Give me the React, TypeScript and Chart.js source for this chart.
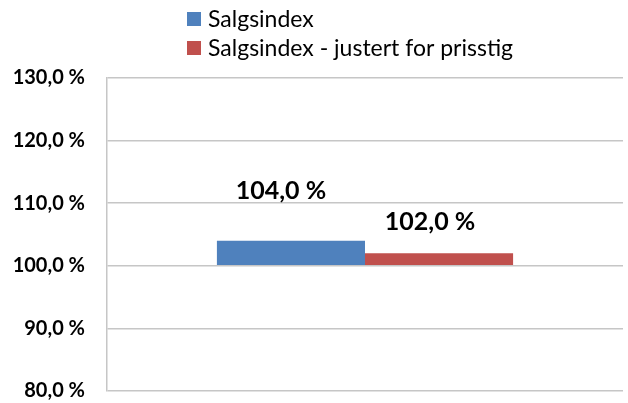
import React, { useEffect, useRef } from "react";
import { Chart, registerables } from "chart.js";

Chart.register(...registerables);

const categories = [""];
const seriesNames = ["Salgsindex", "Salgsindex - justert for prisstig"];
const salgsindex = [104.0];
const justert = [102.0];
const baseValue = 100;
const yTicks = [80, 90, 100, 110, 120, 130];

const fmt = (v: number) => v.toFixed(1).replace(".", ",") + " %";

const FONT = "Lato, 'DejaVu Sans', sans-serif";

const valueLabels = {
  id: "valueLabels",
  afterDatasetsDraw(chart: any) {
    const ctx = chart.ctx;
    ctx.save();
    ctx.font = `bold 25px ${FONT}`;
    ctx.fillStyle = "#000";
    ctx.textAlign = "center";
    ctx.textBaseline = "alphabetic";
    chart.data.datasets.forEach((ds: any, i: number) => {
      const meta = chart.getDatasetMeta(i);
      meta.data.forEach((el: any, j: number) => {
        const [dx, dy] = ds.labelOffset;
        ctx.fillText(fmt(ds.data[j]), el.x + dx, el.y - dy);
      });
    });
    ctx.restore();
  },
};

const customLegend = {
  id: "customLegend",
  afterDraw(chart: any, _args: any, opts: any) {
    const ctx = chart.ctx;
    ctx.save();
    ctx.font = `23px ${FONT}`;
    ctx.textBaseline = "alphabetic";
    ctx.textAlign = "left";
    chart.data.datasets.forEach((ds: any, i: number) => {
      const y = opts.top + i * opts.rowGap;
      ctx.fillStyle = ds.backgroundColor;
      ctx.fillRect(opts.left, y, opts.box, opts.box);
      ctx.fillStyle = "#000";
      ctx.fillText(ds.label, opts.left + opts.textGap, y + opts.box + 1);
    });
    ctx.restore();
  },
};

export default function App() {
  const ref = useRef<HTMLCanvasElement>(null);
  useEffect(() => {
    if (!ref.current) return;
    const chart = new Chart(ref.current, {
      type: "bar",
      data: {
        labels: categories,
        datasets: [
          {
            label: seriesNames[0],
            data: salgsindex,
            base: baseValue,
            backgroundColor: "#4f81bd",
            labelOffset: [-10, 42],
          } as any,
          {
            label: seriesNames[1],
            data: justert,
            base: baseValue,
            backgroundColor: "#c0504d",
            labelOffset: [-9, 23],
          } as any,
        ],
      },
      options: {
        animation: false,
        responsive: true,
        maintainAspectRatio: false,
        layout: { padding: { top: 78, bottom: 12, left: 0, right: 5 } },
        datasets: {
          bar: { categoryPercentage: 0.574, barPercentage: 1 },
        },
        plugins: {
          legend: { display: false },
          tooltip: { enabled: false },
          customLegend: { left: 187, top: 12, rowGap: 29, box: 14, textGap: 21 },
        } as any,
        scales: {
          x: { display: false, offset: true },
          y: {
            min: 80,
            max: 130,
            afterBuildTicks(scale: any) {
              scale.ticks = yTicks.map((v) => ({ value: v }));
            },
            afterFit(scale: any) {
              scale.width = 107;
            },
            ticks: {
              padding: 0,
              color: "#000",
              font: { family: FONT, size: 20, weight: "bold" },
              callback: (v: any) => fmt(Number(v)),
            },
            grid: {
              color: "#c6c6c6",
              lineWidth: 1.5,
              drawTicks: true,
              tickLength: 22,
              tickColor: "rgba(0,0,0,0)",
            },
            border: { display: true, color: "#c6c6c6", width: 1.5 },
          },
        },
      },
      plugins: [valueLabels, customLegend],
    });
    return () => chart.destroy();
  }, []);
  return (
    <div style={{ position: "absolute", left: 0, top: 0, width: 628, height: 403, background: "#fff" }}>
      <canvas ref={ref} />
    </div>
  );
}
